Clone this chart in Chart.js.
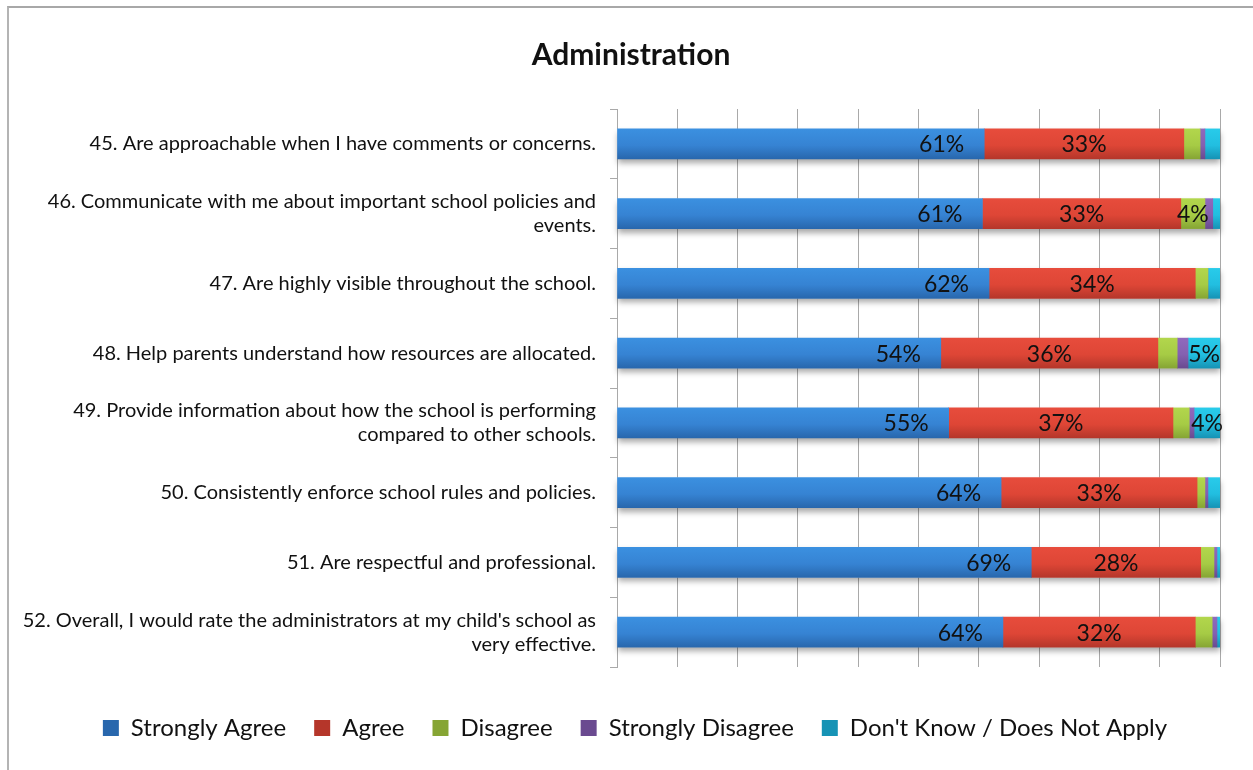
<!DOCTYPE html>
<html>
<head>
<meta charset="utf-8">
<title>Administration</title>
<script src="https://cdn.jsdelivr.net/npm/chart.js@4.4.0/dist/chart.umd.min.js"></script>
<style>
  html, body { margin: 0; padding: 0; background: #fff; }
  #wrap { position: relative; width: 1253px; height: 770px; }
  #frame {
    position: absolute; left: 7px; top: 6px; right: -10px; bottom: -10px;
    border-left: 2px solid #b4b4b4; border-top: 2px solid #a8a8a8;
    pointer-events: none;
  }
</style>
</head>
<body>
<div id="wrap">
  <canvas id="chart" width="1253" height="770"></canvas>
  <div id="frame"></div>
</div>
<script>
const FONT = 'Lato, "Open Sans", sans-serif'

const questions = [
  '45. Are approachable when I have comments or concerns.',
  ['46. Communicate with me about important school policies and', 'events.'],
  '47. Are highly visible throughout the school.',
  '48. Help parents understand how resources are allocated.',
  ['49. Provide information about how the school is performing', 'compared to other schools.'],
  '50. Consistently enforce school rules and policies.',
  '51. Are respectful and professional.',
  ["52. Overall, I would rate the administrators at my child's school as", 'very effective.']
]

const responses = ['Strongly Agree', 'Agree', 'Disagree', 'Strongly Disagree', "Don't Know / Does Not Apply"]

// percent of responses per question
const stronglyAgree    = [60.9, 60.6, 61.7, 53.7, 55.0, 63.7, 68.7, 64.0]
const agree            = [33.1, 32.9, 34.2, 36.0, 37.2, 32.5, 28.1, 31.9]
const disagree         = [2.7, 4.0, 2.1, 3.2, 2.7, 1.3, 2.2, 2.8]
const stronglyDisagree = [0.8, 1.3, 0.0, 1.8, 0.8, 0.5, 0.5, 0.8]
const dontKnow         = [2.5, 1.2, 2.0, 5.3, 4.3, 2.0, 0.5, 0.5]

const series = [stronglyAgree, agree, disagree, stronglyDisagree, dontKnow]

// flat colour, gradient top, gradient bottom
const palette = [
  ['#3683d3', '#3b90e0', '#2867ad'],
  ['#de4636', '#e74c3c', '#b5362a'],
  ['#a6cb45', '#b2d64c', '#86a534'],
  ['#8460b0', '#9069bd', '#6a4a90'],
  ['#22bee0', '#28cbea', '#1693b5']
]

const BAR = 30

function barFill(i) {
  return function (ctx) {
    const [flat, top, bottom] = palette[i]
    if (ctx.type !== 'data') return flat
    const y = ctx.chart.scales.y
    if (!y || y.top == null) return flat
    const c = y.getPixelForValue(ctx.dataIndex)
    const g = ctx.chart.ctx.createLinearGradient(0, c - BAR / 2, 0, c + BAR / 2)
    g.addColorStop(0, top)
    g.addColorStop(0.55, flat)
    g.addColorStop(1, bottom)
    return g
  }
}

// title and legend sit centred on the whole card, not on the plot box
const recentre = {
  id: 'recentre',
  afterLayout(chart) {
    const t = chart.titleBlock
    if (t) { t.left = 9; t.right = 1253 }
    const l = chart.legend
    if (l) { l.left += 21; l.right += 21 }
  }
}

// soft shadow under each stacked row, then the % labels on top
const barDecor = {
  id: 'barDecor',
  beforeDatasetsDraw(chart) {
    const ctx = chart.ctx
    const first = chart.getDatasetMeta(0).data
    const last = chart.getDatasetMeta(series.length - 1).data
    ctx.save()
    ctx.shadowColor = 'rgba(0,0,0,0.35)'
    ctx.shadowBlur = 6
    ctx.shadowOffsetY = 4
    ctx.fillStyle = '#fff'
    first.forEach((el, i) => {
      const x0 = el.base
      const x1 = last[i].x
      ctx.fillRect(x0, el.y - BAR / 2, x1 - x0, BAR)
    })
    ctx.restore()
  },
  afterDatasetsDraw(chart) {
    const ctx = chart.ctx
    ctx.save()
    ctx.font = '23px ' + FONT
    ctx.fillStyle = '#111'
    ctx.textBaseline = 'middle'
    chart.data.datasets.forEach((ds, di) => {
      chart.getDatasetMeta(di).data.forEach((el, i) => {
        const v = ds.data[i]
        if (v < 3.5) return
        const text = Math.round(v) + '%'
        if (di === 0) {
          ctx.textAlign = 'right'
          ctx.fillText(text, el.x - 20, el.y + 1)
        } else {
          ctx.textAlign = 'center'
          ctx.fillText(text, (el.x + el.base) / 2, el.y + 1)
        }
      })
    })
    ctx.restore()
  }
}

new Chart(document.getElementById('chart'), {
  type: 'bar',
  data: {
    labels: questions,
    datasets: series.map((values, i) => ({
      label: responses[i],
      data: values,
      backgroundColor: barFill(i),
      borderWidth: 0,
      barThickness: BAR
    }))
  },
  options: {
    indexAxis: 'y',
    responsive: false,
    animation: false,
    layout: { padding: { left: 8, right: 33, top: 0, bottom: 20 } },
    scales: {
      x: {
        stacked: true,
        min: 0,
        max: 100,
        ticks: { display: false, stepSize: 10 },
        grid: { color: '#a9a9a9', lineWidth: 1, drawTicks: false },
        border: { display: false },
        afterFit(scale) { scale.height = 21 }
      },
      y: {
        stacked: true,
        grid: { drawOnChartArea: false, color: '#a9a9a9', tickLength: 7 },
        border: { color: '#a9a9a9' },
        ticks: {
          color: '#111',
          padding: 14,
          font: { family: FONT, size: 20, lineHeight: 1.2 }
        },
        afterFit(scale) { scale.width = 609 }
      }
    },
    plugins: {
      title: {
        display: true,
        text: 'Administration',
        color: '#111',
        font: { family: FONT, size: 30, weight: 'bold' },
        padding: { top: 37, bottom: 36 }
      },
      legend: {
        position: 'bottom',
        labels: {
          color: '#111',
          boxWidth: 16,
          boxHeight: 16,
          padding: 28,
          font: { family: FONT, size: 24 }
        }
      },
      tooltip: { enabled: false }
    }
  },
  plugins: [barDecor, recentre]
})
</script>
</body>
</html>
